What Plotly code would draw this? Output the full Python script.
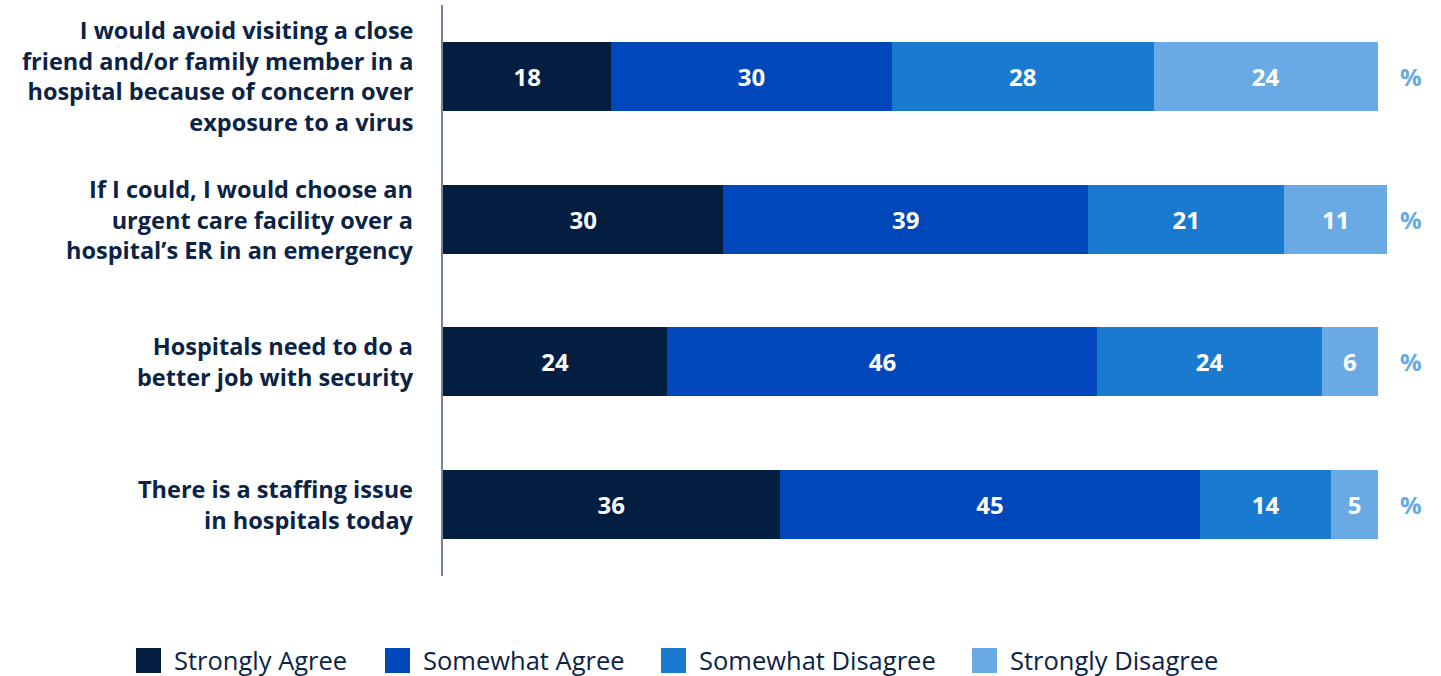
import plotly.graph_objects as go

# Survey statements (top to bottom), one list entry per text line
statement_lines = [
    ["I would avoid visiting a close", "friend and/or family member in a",
     "hospital because of concern over", "exposure to a virus"],
    ["If I could, I would choose an", "urgent care facility over a",
     "hospital\u2019s ER in an emergency"],
    ["Hospitals need to do a", "better job with security"],
    ["There is a staffing issue", "in hospitals today"],
]
statements = [" ".join(lines) for lines in statement_lines]

# Response shares in percent
strongly_agree = [18, 30, 24, 36]
somewhat_agree = [30, 39, 46, 45]
somewhat_disagree = [28, 21, 24, 14]
strongly_disagree = [24, 11, 6, 5]

series_names = ["Strongly Agree", "Somewhat Agree", "Somewhat Disagree", "Strongly Disagree"]
series_values = [strongly_agree, somewhat_agree, somewhat_disagree, strongly_disagree]
series_colors = ["#041e42", "#0047bb", "#197ad0", "#6aaae4"]

NAVY = "#0b2345"
FONT = "Open Sans"

W, H = 1441, 676
ML, MR, MT, MB = 443, 7, 5, 100
PLOT_W = W - ML - MR
PLOT_H = H - MT - MB


def px_x(p):
    return (p - ML) / PLOT_W


def px_y(p):
    return (H - MB - p) / PLOT_H


fig = go.Figure()
for name, vals, color in zip(series_names, series_values, series_colors):
    fig.add_trace(go.Bar(
        y=statements, x=vals, name=name, orientation="h",
        marker=dict(color=color, line=dict(width=0)),
        text=vals, texttemplate="%{text}", textposition="inside",
        insidetextanchor="middle", constraintext="none",
        textfont=dict(family=FONT, size=24, color="white", weight=700),
        showlegend=False, hoverinfo="skip",
    ))

# Statement labels, right-aligned against the axis
for s, lines in zip(statements, statement_lines):
    fig.add_annotation(x=px_x(416), xref="paper", y=s, yref="y",
                       xanchor="right", yanchor="middle", align="right",
                       text="<br>".join(lines), showarrow=False,
                       font=dict(family=FONT, size=23.5, color=NAVY, weight=700))

# "%" marker at the end of each row
for s in statements:
    fig.add_annotation(x=103.5, y=s, xref="x", yref="y", text="%", showarrow=False,
                       font=dict(family=FONT, size=24, color="#6aaae4", weight=700))

# Legend drawn as large square swatches with labels below the chart
legend_swatch_left = [136, 385, 661, 972]
for name, color, left in zip(series_names, series_colors, legend_swatch_left):
    fig.add_shape(type="rect", xref="paper", yref="paper",
                  x0=px_x(left), x1=px_x(left + 25), y0=px_y(673), y1=px_y(648),
                  fillcolor=color, line=dict(width=0))
    fig.add_annotation(xref="paper", yref="paper", x=px_x(left + 36), y=px_y(660),
                       xanchor="left", yanchor="middle", text=name, showarrow=False,
                       font=dict(family=FONT, size=25.5, color=NAVY))

fig.update_layout(
    width=W, height=H,
    margin=dict(l=ML, r=MR, t=MT, b=MB),
    barmode="stack", bargap=0.516,
    plot_bgcolor="white", paper_bgcolor="white",
    xaxis=dict(range=[0, 106], showgrid=False, zeroline=False, showticklabels=False,
               showline=False, fixedrange=True),
    yaxis=dict(autorange="reversed", showgrid=False, zeroline=False,
               showline=True, linecolor="#74859b", linewidth=1.5,
               ticks="", showticklabels=False),
    showlegend=False,
)

fig.write_html("out.html")
